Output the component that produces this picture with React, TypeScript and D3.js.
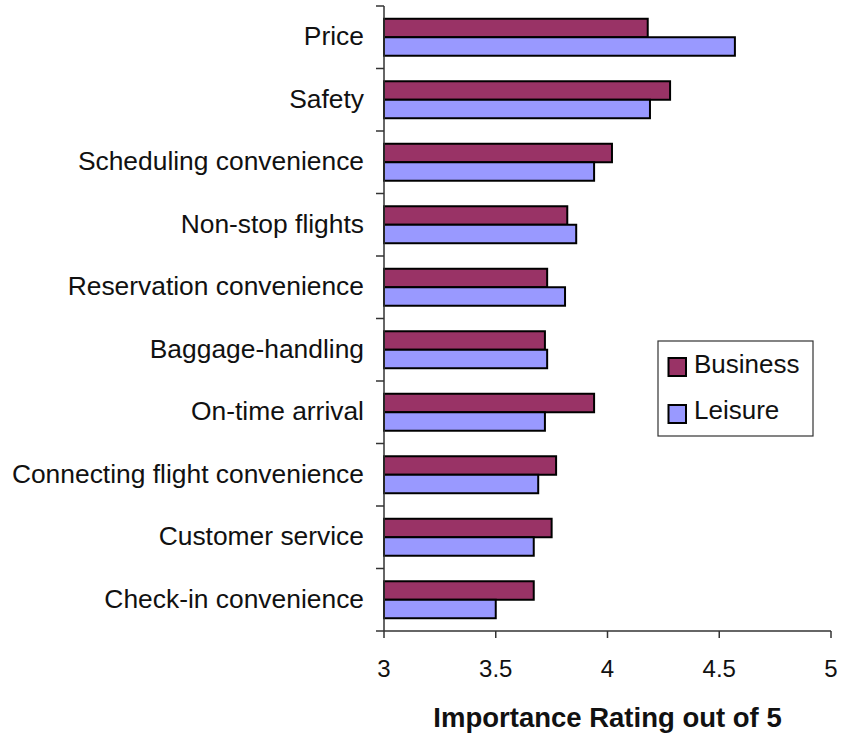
import React from "react";
import * as d3 from "d3";

const categories = [
  "Price",
  "Safety",
  "Scheduling convenience",
  "Non-stop flights",
  "Reservation convenience",
  "Baggage-handling",
  "On-time arrival",
  "Connecting flight convenience",
  "Customer service",
  "Check-in convenience",
];
const seriesNames = ["Business", "Leisure"];
const business = [4.18, 4.28, 4.02, 3.82, 3.73, 3.72, 3.94, 3.77, 3.75, 3.67];
const leisure = [4.57, 4.19, 3.94, 3.86, 3.81, 3.73, 3.72, 3.69, 3.67, 3.5];
const xTicks = [3, 3.5, 4, 4.5, 5];
const xTickLabels = ["3", "3.5", "4", "4.5", "5"];
const axisTitle = "Importance Rating out of 5";

const colors: Record<string, string> = { Business: "#993366", Leisure: "#9999FF" };
const FONT = "'Liberation Sans', Arial, Helvetica, sans-serif";

export default function App() {
  const W = 843;
  const H = 734;
  const x = d3.scaleLinear().domain([3, 5]).range([384, 831]);
  const y = d3.scaleBand<string>().domain(categories).range([6, 631]).padding(0);
  const y1 = d3
    .scaleBand<string>()
    .domain(seriesNames)
    .range([0, y.bandwidth()])
    .paddingInner(0)
    .paddingOuter(0.69);
  const values: Record<string, number[]> = { Business: business, Leisure: leisure };
  const [y0, yEnd] = y.range();
  const boundaries = categories.map((c) => y(c) as number).concat([yEnd]);

  return (
    <svg
      width={W}
      height={H}
      style={{ position: "absolute", left: 0, top: 0, background: "#fff" }}
      fontFamily={FONT}
    >
      <rect x={0} y={0} width={W} height={H} fill="#fff" />
      {/* bars */}
      {categories.map((c, i) => (
        <g key={c}>
          {seriesNames.map((s) => (
            <rect
              key={s}
              x={x(3)}
              y={(y(c) as number) + (y1(s) as number)}
              width={x(values[s][i]) - x(3)}
              height={y1.bandwidth()}
              fill={colors[s]}
              stroke="#000"
              strokeWidth={2}
            />
          ))}
        </g>
      ))}
      {/* y axis */}
      <line x1={x(3)} x2={x(3)} y1={y0} y2={yEnd} stroke="#333" strokeWidth={1.5} />
      {boundaries.map((b, i) => (
        <line key={i} x1={x(3) - 8} x2={x(3)} y1={b} y2={b} stroke="#333" strokeWidth={1.5} />
      ))}
      {categories.map((c) => (
        <text
          key={c}
          x={364}
          y={(y(c) as number) + y.bandwidth() / 2}
          dy="0.3em"
          textAnchor="end"
          fontSize={26.4}
          fill="#111"
        >
          {c}
        </text>
      ))}
      {/* x axis */}
      <line x1={x(3)} x2={x(5)} y1={yEnd} y2={yEnd} stroke="#333" strokeWidth={1.5} />
      {xTicks.map((t, i) => (
        <g key={t}>
          <line x1={x(t)} x2={x(t)} y1={yEnd} y2={yEnd + 7} stroke="#333" strokeWidth={1.5} />
          <text x={x(t)} y={677} textAnchor="middle" fontSize={24} fill="#111">
            {xTickLabels[i]}
          </text>
        </g>
      ))}
      <text
        x={(x(3) + x(5)) / 2}
        y={727}
        textAnchor="middle"
        fontSize={27.5}
        fontWeight="bold"
        fill="#111"
      >
        {axisTitle}
      </text>
      {/* legend */}
      <rect x={658} y={341} width={155} height={95} fill="#fff" stroke="#333" strokeWidth={1.2} />
      {seriesNames.map((s, i) => (
        <g key={s}>
          <rect
            x={668.5}
            y={358 + i * 47}
            width={17.5}
            height={18}
            fill={colors[s]}
            stroke="#000"
            strokeWidth={2}
          />
          <text x={694} y={373 + i * 46} fontSize={26} fill="#111">
            {s}
          </text>
        </g>
      ))}
    </svg>
  );
}
